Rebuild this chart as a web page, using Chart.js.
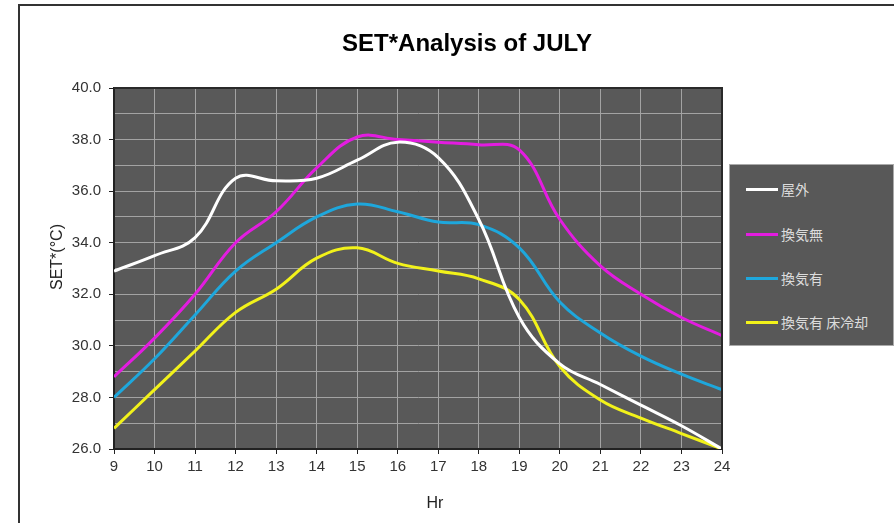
<!DOCTYPE html>
<html lang="ja">
<head>
  <meta charset="UTF-8" />
  <title>SET*Analysis of JULY</title>
  <script src="https://cdn.jsdelivr.net/npm/chart.js"></script>
  <style>
    body { margin:0; background:#fff; font-family:'Liberation Sans', Arial, sans-serif; }
    .wrap { position:relative; width:894px; height:523px; overflow:hidden; }
    .frame { position:absolute; left:18px; top:4px; width:900px; height:540px; border-left:2px solid #333; border-top:2px solid #333; }
    canvas { position:absolute; left:0; top:0; }
    .title { position:absolute; left:0; width:934px; top:29px; text-align:center; font-weight:bold; font-size:24px; color:#000; }
    .ytitle { position:absolute; left:57px; top:257px; transform:translate(-50%,-50%) rotate(-90deg); font-size:16px; color:#222; white-space:nowrap; }
    .xtitle { position:absolute; left:435px; top:503px; transform:translate(-50%,-50%); font-size:16px; color:#222; }
    .legend { position:absolute; left:729px; top:164px; width:163px; height:180px; background:#585858; border:1px solid #aaa; }
    .legend .item { position:absolute; left:16px; height:20px; display:flex; align-items:center; }
    .legend .swatch { width:32px; height:3px; margin-right:3px; }
    .legend .label { color:#dcdcdc; font-family:'Noto Sans CJK JP', sans-serif; font-size:14px; }
  </style>
</head>
<body>
  <div class="wrap">
    <div class="frame"></div>
    <canvas id="chart" width="894" height="523"></canvas>
    <div class="title">SET*Analysis of JULY</div>
    <div class="ytitle">SET*(°C)</div>
    <div class="xtitle">Hr</div>
    <div class="legend" id="legend"></div>
  </div>

  <script>
    // 時刻 (Hr)
    const hours = [9, 10, 11, 12, 13, 14, 15, 16, 17, 18, 19, 20, 21, 22, 23, 24];

    // SET* 値
    const outdoor     = [32.9, 33.5, 34.2, 36.5, 36.4, 36.5, 37.2, 37.9, 37.3, 34.9, 31.1, 29.3, 28.5, 27.7, 26.9, 26.0];
    const noVent      = [28.8, 30.3, 32.0, 34.0, 35.2, 36.9, 38.1, 38.0, 37.9, 37.8, 37.6, 34.9, 33.1, 32.0, 31.1, 30.4];
    const vent        = [28.0, 29.5, 31.2, 32.9, 34.0, 35.0, 35.5, 35.2, 34.8, 34.7, 33.8, 31.7, 30.5, 29.6, 28.9, 28.3];
    const ventCooling = [26.8, 28.3, 29.8, 31.3, 32.2, 33.4, 33.8, 33.2, 32.9, 32.6, 31.8, 29.2, 27.9, 27.2, 26.6, 26.0];

    const seriesNames = ['屋外', '換気無', '換気有', '換気有 床冷却'];
    const seriesColors = ['#ffffff', '#e31ce0', '#1ea7dc', '#f2f21a'];
    const seriesData = [outdoor, noVent, vent, ventCooling];

    const plotBg = {
      id: 'plotBg',
      beforeDraw(chart) {
        const { ctx, chartArea: a } = chart;
        ctx.save();
        ctx.fillStyle = '#595959';
        ctx.fillRect(a.left, a.top, a.right - a.left, a.bottom - a.top);
        ctx.restore();
      },
      afterDatasetsDraw(chart) {
        const { ctx, chartArea: a } = chart;
        ctx.save();
        ctx.strokeStyle = '#2a2a2a';
        ctx.lineWidth = 2;
        ctx.beginPath();
        ctx.moveTo(a.left, a.top);
        ctx.lineTo(a.right, a.top);
        ctx.lineTo(a.right, a.bottom);
        ctx.stroke();
        ctx.restore();
      }
    };

    new Chart(document.getElementById('chart'), {
      type: 'line',
      data: {
        datasets: seriesData.map((vals, i) => ({
          label: seriesNames[i],
          data: hours.map((h, j) => ({ x: h, y: vals[j] })),
          borderColor: seriesColors[i],
          borderWidth: 3,
          pointRadius: 0,
          tension: 0.4,
          fill: false
        }))
      },
      options: {
        responsive: false,
        devicePixelRatio: 1,
        animation: false,
        layout: { padding: { top: 88, right: 172, left: 0, bottom: 0 } },
        plugins: { legend: { display: false }, tooltip: { enabled: false } },
        scales: {
          x: {
            type: 'linear', min: 9, max: 24,
            afterFit: s => { s.height = 74; },
            ticks: { stepSize: 1, color: '#333', font: { size: 15 }, padding: 4, maxRotation: 0, autoSkip: false },
            grid: { color: '#a3a3a3', lineWidth: 1, tickLength: 5, tickColor: '#222' },
            border: { color: '#222', width: 2 }
          },
          y: {
            min: 26, max: 40,
            afterFit: s => { s.width = 114; },
            ticks: {
              stepSize: 1, autoSkip: false, color: '#333', font: { size: 15 }, padding: 8,
              callback: v => (v % 2 === 0 ? v.toFixed(1) : '')
            },
            grid: {
              color: '#a3a3a3', lineWidth: 1, tickLength: 5,
              tickColor: c => (c.tick && c.tick.value % 2 === 0 ? '#222' : 'rgba(0,0,0,0)')
            },
            border: { color: '#222', width: 2 }
          }
        }
      },
      plugins: [plotBg]
    });

    // 凡例
    const legend = document.getElementById('legend');
    const itemTops = [14, 59, 103, 147];
    seriesNames.forEach((name, i) => {
      const item = document.createElement('div');
      item.className = 'item';
      item.style.top = itemTops[i] + 'px';
      item.innerHTML = `<span class="swatch" style="background:${seriesColors[i]}"></span><span class="label">${name}</span>`;
      legend.appendChild(item);
    });
  </script>
</body>
</html>
